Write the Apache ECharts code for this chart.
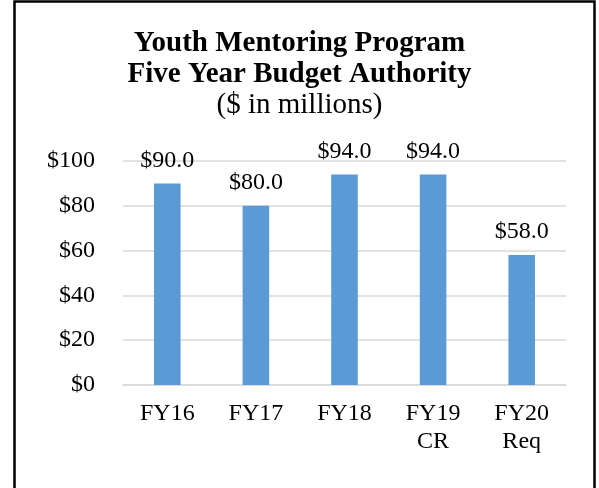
<!DOCTYPE html>
<html>
<head>
<meta charset="utf-8">
<script src="https://cdn.jsdelivr.net/npm/echarts@6/dist/echarts.min.js"></script>
<style>
  html, body { margin: 0; padding: 0; background: #fff; }
  #chart { width: 599px; height: 488px; }
</style>
</head>
<body>
<div id="chart"></div>
<script>
const categories = ['FY16', 'FY17', 'FY18', 'FY19\nCR', 'FY20\nReq'];
const budget = [90.0, 80.0, 94.0, 94.0, 58.0];
const yTicks = [0, 20, 40, 60, 80, 100];

const chart = echarts.init(document.getElementById('chart'));
const font = '"Liberation Serif", "Times New Roman", serif';

const option = {
  backgroundColor: '#fff',
  animation: false,
  title: {
    text: 'Youth Mentoring Program\nFive Year Budget Authority',
    subtext: '($ in millions)',
    left: 'center',
    top: 23,
    itemGap: 0,
    textStyle: { fontFamily: font, fontWeight: 'bold', fontSize: 29, lineHeight: 31, color: '#000' },
    subtextStyle: { fontFamily: font, fontSize: 29, lineHeight: 30, color: '#000' }
  },
  graphic: [{
    type: 'rect',
    shape: { x: 14.5, y: 1.5, width: 580, height: 540 },
    style: { fill: 'none', stroke: '#000', lineWidth: 2.5 },
    silent: true
  }],
  grid: { left: 123, right: 33, top: 161, bottom: 103 },
  xAxis: {
    type: 'category',
    data: categories,
    axisLine: { lineStyle: { color: '#d9d9d9', width: 1.5 } },
    axisTick: { show: false },
    axisLabel: { fontFamily: font, fontSize: 24, color: '#000', margin: 15, lineHeight: 28 }
  },
  yAxis: {
    type: 'value',
    min: 0,
    max: 100,
    interval: 20,
    axisLine: { show: false },
    axisTick: { show: false },
    splitLine: { lineStyle: { color: '#d9d9d9', width: 1.5 } },
    axisLabel: {
      fontFamily: font, fontSize: 24, color: '#000', margin: 28,
      formatter: (v) => yTicks.includes(v) ? '$' + v : ''
    }
  },
  series: [{
    type: 'bar',
    data: budget,
    barWidth: '30%',
    itemStyle: { color: '#5B9BD5' },
    label: {
      show: true,
      position: 'top',
      distance: 11,
      fontFamily: font,
      fontSize: 24,
      color: '#000',
      formatter: (p) => '$' + p.value.toFixed(1)
    }
  }]
};

chart.setOption(option);
</script>
</body>
</html>
